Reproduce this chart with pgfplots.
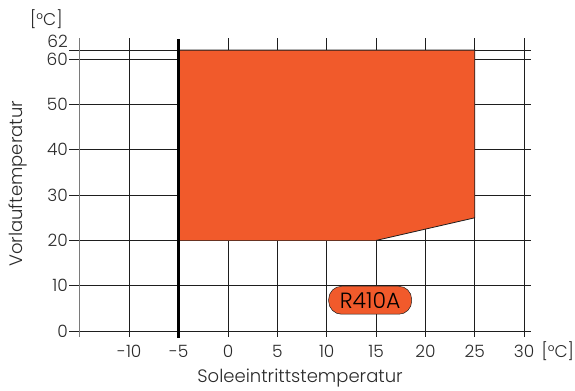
\documentclass[border=0pt]{standalone}
\usepackage{pgfplots}
\pgfplotsset{compat=1.18}
\usepackage{fontspec}
\setmainfont{Poppins}[UprightFont=* Light]
\definecolor{fillorange}{HTML}{F15A2B}
\definecolor{gridline}{HTML}{1E1E1E}
\definecolor{axisgray}{HTML}{7A7A7A}
\definecolor{textcol}{HTML}{2A2A2A}

% Operating envelope: flow temperature vs. brine inlet temperature
\pgfplotstableread{
x   y
-5  20
15  20
25  25
25  62
-5  62
}\envelope

\begin{document}
\begin{tikzpicture}
\begin{axis}[
  x=9.87pt, y=4.53pt,
  xmin=-17, xmax=31, ymin=-2, ymax=65,
  axis lines=none,
  clip=false,
  font=\fontsize{17}{19}\selectfont,
]
% bounding frame of the picture
\path (axis cs:-23.1,-13.02) rectangle (axis cs:35.15,73.07);

% horizontal grid lines
\foreach \yy in {0,10,20,30,40,50,60,62} {
  \edef\temp{\noexpand\draw[gridline, line width=0.9pt] (axis cs:-16.1,\yy) -- (axis cs:30.7,\yy);}
  \temp
}
% vertical grid lines
\foreach \xx in {-10,0,5,10,15,20,25,30} {
  \edef\temp{\noexpand\draw[gridline, line width=0.9pt] (axis cs:\xx,-1.3) -- (axis cs:\xx,64.7);}
  \temp
}
\draw[axisgray, line width=1pt] (axis cs:-15,-1.3) -- (axis cs:-15,64.7);

% envelope area
\addplot[fill=fillorange, draw=none] table {\envelope} -- cycle;
\addplot[gridline, line width=0.8pt] table {
x y
15 20
25 25
25 62
-5 62
};
\draw[black, line width=2.6pt] (axis cs:-5,-1.5) -- (axis cs:-5,64.5);

% y tick labels
\foreach \yy/\lab in {0/0,10/10,20/20,30/30,40/40,50/50,60/60} {
  \edef\temp{\noexpand\node[anchor=east, inner sep=0pt, text=textcol] at (axis cs:-16.2,\yy) {\lab};}
  \temp
}
\node[anchor=east, inner sep=0pt, text=textcol] at (axis cs:-16.2,64.0) {62};
% x tick labels
\foreach \xx/\lab in {-10/-10,-5/-5,0/0,5/5,10/10,15/15,20/20,25/25,30/30} {
  \edef\temp{\noexpand\node[inner sep=0pt, text=textcol] at (axis cs:\xx,-4.4) {\lab};}
  \temp
}
\node[inner sep=0pt, text=textcol] at (axis cs:33.4,-4.4) {[°C]};
\node[inner sep=0pt, text=textcol] at (axis cs:-18.4,68.9) {[°C]};

% axis titles
\node[rotate=90, inner sep=0pt, text=textcol, font=\fontsize{18}{20}\selectfont] at (axis cs:-21.3,32.5) {Vorlauftemperatur};
\node[inner sep=0pt, text=textcol, font=\fontsize{18}{20}\selectfont] at (axis cs:7.3,-10.4) {Soleeintrittstemperatur};

% refrigerant label
\node[fill=fillorange, draw=gridline, line width=0.5pt, rounded corners=13pt,
      minimum height=28pt, minimum width=83pt, inner sep=0pt, text=black,
      font=\fontsize{22}{24}\selectfont] at (axis cs:14.4,6.8) {R410A};
\end{axis}
\end{tikzpicture}
\end{document}
